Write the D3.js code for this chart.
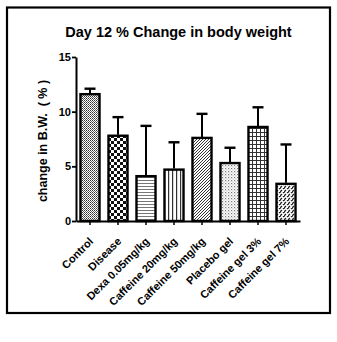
<!DOCTYPE html>
<html><head><meta charset="utf-8">
<script src="https://cdn.jsdelivr.net/npm/d3@7"></script>
<style>body{margin:0;background:#fff}svg{display:block}</style>
</head><body>
<script>
const categories = ["Control","Disease","Dexa 0.05mg/kg","Caffeine 20mg/kg","Caffeine 50mg/kg","Placebo gel","Caffeine gel 3%","Caffeine gel 7%"];
const means = [11.6, 7.8, 4.1, 4.7, 7.6, 5.3, 8.6, 3.4];
const errTops = [12.1, 9.5, 8.7, 7.2, 9.8, 6.7, 10.4, 7.0];
const yTicks = [0, 5, 10, 15];
const patterns = ["dots","checker","hlines","vlines","diag","fdots","grid","dashdiag"];

const W = 337, H = 342;
const FONT = "Liberation Sans, Arial, sans-serif";
const svg = d3.select("body").append("svg").attr("width", W).attr("height", H);
const defs = svg.append("defs");

function pat(id, w, h, draw) {
  const p = defs.append("pattern").attr("id", id).attr("patternUnits", "userSpaceOnUse")
    .attr("width", w).attr("height", h);
  p.append("rect").attr("width", w).attr("height", h).attr("fill", "#fff");
  draw(p);
}
pat("dots", 2, 2, p => { p.append("rect").attr("width",1).attr("height",1).attr("fill","#333");
  p.append("rect").attr("x",1).attr("y",1).attr("width",1).attr("height",1).attr("fill","#666"); });
pat("checker", 6, 6, p => { p.append("rect").attr("width",3).attr("height",3).attr("fill","#111");
  p.append("rect").attr("x",3).attr("y",3).attr("width",3).attr("height",3).attr("fill","#111"); });
pat("hlines", 4, 3, p => { p.append("rect").attr("y",0).attr("width",4).attr("height",1).attr("fill","#777"); });
pat("vlines", 4, 4, p => { p.append("rect").attr("x",0).attr("width",1.2).attr("height",4).attr("fill","#333"); });
pat("diag", 3, 3, p => { p.append("path").attr("d","M0,3 L3,0 M-1,1 L1,-1 M2,4 L4,2").attr("stroke","#333").attr("stroke-width",1); });
pat("fdots", 3, 3, p => { p.append("rect").attr("width",1.2).attr("height",1.2).attr("fill","#777");
  p.append("rect").attr("x",1.5).attr("y",1.5).attr("width",1).attr("height",1).attr("fill","#999"); });
pat("grid", 4, 4, p => { p.append("rect").attr("width",4).attr("height",1).attr("fill","#333");
  p.append("rect").attr("width",1).attr("height",4).attr("fill","#333"); });
pat("dashdiag", 4, 4, p => { p.append("path").attr("d","M0,4 L2,2 M3,1 L4,0").attr("stroke","#222").attr("stroke-width",1.3);
  p.append("rect").attr("x",0).attr("y",0).attr("width",1).attr("height",1).attr("fill","#555"); });

// frame
svg.append("rect").attr("x", 7).attr("y", 7.5).attr("width", 323).attr("height", 305.5)
  .attr("fill", "none").attr("stroke", "#000").attr("stroke-width", 2.2);

const x = d3.scaleBand().domain(categories).range([76, 300]).paddingInner(0.32).paddingOuter(0.16);
const y = d3.scaleLinear().domain([0, 15]).range([221, 57]);

svg.append("text").attr("x", 178.5).attr("y", 36.5).attr("text-anchor", "middle")
  .attr("font-family", FONT).attr("font-weight", "bold")
  .attr("font-size", 14.5).text("Day 12 % Change in body weight");

svg.append("text").attr("transform", "translate(47,141) rotate(-90)").attr("text-anchor", "middle")
  .attr("font-family", FONT).attr("font-weight", "bold")
  .attr("font-size", 12.5).attr("xml:space","preserve").text("change in B.W.  ( % )");

// bars
const g = svg.append("g");
g.selectAll("rect.bar").data(categories).join("rect").attr("class", "bar")
  .attr("x", d => x(d)).attr("width", x.bandwidth())
  .attr("y", (d, i) => y(means[i])).attr("height", (d, i) => y(0) - y(means[i]))
  .attr("fill", (d, i) => `url(#${patterns[i]})`).attr("stroke", "#000").attr("stroke-width", 2.4);

// error bars
g.selectAll("line.err").data(categories).join("line").attr("class", "err")
  .attr("x1", d => x(d) + x.bandwidth() / 2).attr("x2", d => x(d) + x.bandwidth() / 2)
  .attr("y1", (d, i) => y(means[i]) - 1).attr("y2", (d, i) => y(errTops[i]))
  .attr("stroke", "#000").attr("stroke-width", 2);
g.selectAll("line.cap").data(categories).join("line").attr("class", "cap")
  .attr("x1", d => x(d) + x.bandwidth() / 2 - 5.5).attr("x2", d => x(d) + x.bandwidth() / 2 + 5.5)
  .attr("y1", (d, i) => y(errTops[i])).attr("y2", (d, i) => y(errTops[i]))
  .attr("stroke", "#000").attr("stroke-width", 2.4);

// y axis
const ya = svg.append("g").attr("transform", "translate(76,0)")
  .call(d3.axisLeft(y).tickValues(yTicks).tickSize(4).tickPadding(1).tickSizeOuter(0));
ya.select(".domain").attr("stroke-width", 2);
ya.selectAll(".tick line").attr("stroke-width", 1.8);
ya.selectAll("text").attr("font-family", FONT).attr("font-weight", "bold").attr("font-size", 11);

// x axis
const xa = svg.append("g").attr("transform", `translate(0,${y(0)})`)
  .call(d3.axisBottom(x).tickSize(4).tickSizeOuter(0));
xa.select(".domain").attr("stroke-width", 2.2);
xa.selectAll(".tick line").attr("stroke-width", 1.5);
xa.selectAll("text").attr("font-family", FONT).attr("font-weight", "bold")
  .attr("font-size", 11).attr("text-anchor", "end").attr("x", 0).attr("y", 0).attr("dy", 0)
  .attr("transform", "translate(4,21) rotate(-45)");
</script>
</body></html>
